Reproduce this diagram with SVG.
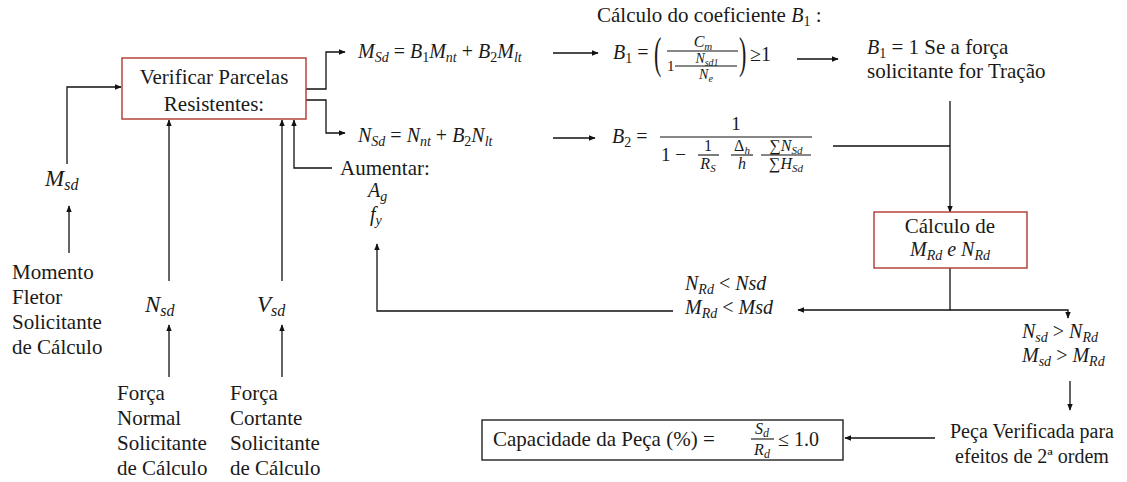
<svg xmlns="http://www.w3.org/2000/svg" width="1127" height="482" viewBox="0 0 1127 482">
<style>
.t{font-family:"Liberation Serif","Times New Roman",serif;font-size:21px;fill:#1a1a1a}
.m{font-family:"Liberation Serif","Times New Roman",serif;font-style:italic;font-size:20px;fill:#1a1a1a}
.s{font-size:14px}
.u{font-style:normal}
.sm{font-family:"Liberation Serif","Times New Roman",serif;font-style:italic;font-size:16px;fill:#1a1a1a}
.ln{fill:none;stroke:#111;stroke-width:1.3}
.bar{stroke:#111;stroke-width:1.1}
.red{fill:#fff;stroke:#b5443d;stroke-width:1.5}
.blk{fill:#fff;stroke:#222;stroke-width:1.4}
</style>
<defs>
<marker id="ah" viewBox="0 0 10 10" refX="9" refY="5" markerWidth="7" markerHeight="7" markerUnits="userSpaceOnUse" orient="auto"><path d="M0,1 L10,5 L0,9 z" fill="#111"/></marker>
</defs>

<g id="connectors">
<path class="ln" d="M67,164 V87 H121" marker-end="url(#ah)"/>
<path class="ln" d="M69,253 V206" marker-end="url(#ah)"/>
<path class="ln" d="M169,281 V120" marker-end="url(#ah)"/>
<path class="ln" d="M169,377 V325" marker-end="url(#ah)"/>
<path class="ln" d="M282,281 V120" marker-end="url(#ah)"/>
<path class="ln" d="M282,377 V325" marker-end="url(#ah)"/>
<path class="ln" d="M332,168 H294 V120" marker-end="url(#ah)"/>
<path class="ln" d="M306,89 H326 V52 H345" marker-end="url(#ah)"/>
<path class="ln" d="M306,100 H326 V133 H345" marker-end="url(#ah)"/>
<path class="ln" d="M553,53 H598" marker-end="url(#ah)"/>
<path class="ln" d="M553,138 H595" marker-end="url(#ah)"/>
<path class="ln" d="M797,59 H838" marker-end="url(#ah)"/>
<path class="ln" d="M950,101 V212" marker-end="url(#ah)"/>
<path class="ln" d="M833,146 H950"/>
<path class="ln" d="M950,268 V310 H798" marker-end="url(#ah)"/>
<path class="ln" d="M950,310 H1068 V318" marker-end="url(#ah)"/>
<path class="ln" d="M673,311 H377 V244" marker-end="url(#ah)"/>
<path class="ln" d="M1070,381 V410" marker-end="url(#ah)"/>
<path class="ln" d="M935,438 H845" marker-end="url(#ah)"/>
</g>

<g id="verificar">
<rect class="red" x="122" y="58" width="184" height="61"/>
<text class="t" x="214" y="84" text-anchor="middle">Verificar Parcelas</text>
<text class="t" x="214" y="111" text-anchor="middle">Resistentes:</text>
</g>

<g id="msd">
<text class="m" x="45" y="186" style="font-size:23px">M<tspan style="font-size:16px" dy="4">sd</tspan></text>
</g>
<g id="momento">
<text class="t" x="12" y="279">Momento</text>
<text class="t" x="12" y="304">Fletor</text>
<text class="t" x="12" y="329">Solicitante</text>
<text class="t" x="12" y="354">de Cálculo</text>
</g>

<g id="nsd">
<text class="m" x="145" y="312" style="font-size:23px">N<tspan style="font-size:16px" dy="4">sd</tspan></text>
</g>
<g id="forca-normal">
<text class="t" x="117" y="400">Força</text>
<text class="t" x="117" y="425">Normal</text>
<text class="t" x="117" y="450">Solicitante</text>
<text class="t" x="117" y="475">de Cálculo</text>
</g>

<g id="vsd">
<text class="m" x="257" y="312" style="font-size:23px">V<tspan style="font-size:16px" dy="4">sd</tspan></text>
</g>
<g id="forca-cortante">
<text class="t" x="230" y="400">Força</text>
<text class="t" x="230" y="425">Cortante</text>
<text class="t" x="230" y="450">Solicitante</text>
<text class="t" x="230" y="475">de Cálculo</text>
</g>

<g id="aumentar">
<text class="t" x="340" y="175">Aumentar:</text>
<text class="m" x="368" y="197">A<tspan class="s" dy="4">g</tspan></text>
<text class="m" x="370" y="221">f<tspan class="s" dy="4">y</tspan></text>
</g>

<g id="msd-eq">
<text class="m" x="358" y="58">M<tspan class="s" dy="4">Sd</tspan><tspan class="u" dy="-4"> = </tspan>B<tspan class="s u" dy="4">1</tspan><tspan dy="-4">M</tspan><tspan class="s" dy="4">nt</tspan><tspan class="u" dy="-4"> + </tspan>B<tspan class="s u" dy="4">2</tspan><tspan dy="-4">M</tspan><tspan class="s" dy="4">lt</tspan></text>
</g>
<g id="nsd-eq">
<text class="m" x="358" y="142">N<tspan class="s" dy="4">Sd</tspan><tspan class="u" dy="-4"> = </tspan>N<tspan class="s" dy="4">nt</tspan><tspan class="u" dy="-4"> + </tspan>B<tspan class="s u" dy="4">2</tspan><tspan dy="-4">N</tspan><tspan class="s" dy="4">lt</tspan></text>
</g>

<g id="titulo-b1">
<text class="t" x="597" y="22">Cálculo do coeficiente <tspan class="m">B</tspan><tspan class="s" dy="4">1</tspan><tspan dy="-4"> :</tspan></text>
</g>

<g id="b1-formula">
<text class="m" x="613" y="59">B<tspan class="s u" dy="4">1</tspan><tspan class="u" dy="-4"> = </tspan></text>
<text class="t" transform="translate(654,68) scale(1,2)" style="font-size:22px">(</text>
<text class="sm" x="703" y="47" text-anchor="middle">C<tspan style="font-size:11px" dy="3">m</tspan></text>
<line class="bar" x1="667" y1="51" x2="738" y2="51"/>
<text class="t" x="667" y="71" style="font-size:15px">1</text>
<line class="bar" x1="675" y1="66" x2="737" y2="66"/>
<text class="sm" x="707" y="63" text-anchor="middle" style="font-size:14px">N<tspan style="font-size:10px" dy="3">sd1</tspan></text>
<text class="sm" x="706" y="79" text-anchor="middle" style="font-size:14px">N<tspan style="font-size:10px" dy="3">e</tspan></text>
<text class="t" transform="translate(739,68) scale(1,2)" style="font-size:22px">)</text>
<text class="t" x="750" y="61" style="font-size:20px">≥1</text>
</g>

<g id="b1-tracao">
<text class="t" x="867" y="54"><tspan class="m">B</tspan><tspan class="s" dy="4">1</tspan><tspan dy="-4"> = 1  Se a força</tspan></text>
<text class="t" x="867" y="78">solicitante for Tração</text>
</g>

<g id="b2-formula">
<text class="m" x="612" y="143">B<tspan class="s u" dy="4">2</tspan><tspan class="u" dy="-4"> = </tspan></text>
<text class="t" x="736" y="130" style="font-size:19px" text-anchor="middle">1</text>
<line class="bar" x1="660" y1="137" x2="812" y2="137"/>
<text class="t" x="661" y="161" style="font-size:19px">1 −</text>
<text class="t" x="708" y="151" style="font-size:16px" text-anchor="middle">1</text>
<line class="bar" x1="698" y1="155" x2="719" y2="155"/>
<text class="sm" x="708" y="169" text-anchor="middle">R<tspan style="font-size:11px" dy="3">S</tspan></text>
<text class="sm" x="742" y="151" text-anchor="middle"><tspan class="u">Δ</tspan><tspan style="font-size:11px" dy="3">h</tspan></text>
<line class="bar" x1="731" y1="155" x2="753" y2="155"/>
<text class="sm" x="742" y="169" text-anchor="middle">h</text>
<text class="sm" x="786" y="151" text-anchor="middle"><tspan class="u">∑</tspan>N<tspan style="font-size:11px" dy="3">Sd</tspan></text>
<line class="bar" x1="761" y1="155" x2="811" y2="155"/>
<text class="sm" x="786" y="169" text-anchor="middle"><tspan class="u">∑</tspan>H<tspan style="font-size:11px" dy="3">Sd</tspan></text>
</g>

<g id="calculo-rd">
<rect class="red" x="874" y="212" width="153" height="56"/>
<text class="t" x="950" y="233" text-anchor="middle">Cálculo de</text>
<text class="m" x="950" y="256" text-anchor="middle">M<tspan class="s" dy="4">Rd</tspan><tspan dy="-4"> e N</tspan><tspan class="s" dy="4">Rd</tspan></text>
</g>

<g id="falha">
<text class="m" x="685" y="290">N<tspan class="s" dy="4">Rd</tspan><tspan class="u" dy="-4"> &lt; </tspan>Nsd</text>
<text class="m" x="685" y="314">M<tspan class="s" dy="4">Rd</tspan><tspan class="u" dy="-4"> &lt; </tspan>Msd</text>
</g>

<g id="ok">
<text class="m" x="1022" y="338">N<tspan class="s" dy="4">sd</tspan><tspan class="u" dy="-4"> &gt; </tspan>N<tspan class="s" dy="4">Rd</tspan></text>
<text class="m" x="1022" y="362">M<tspan class="s" dy="4">sd</tspan><tspan class="u" dy="-4"> &gt; </tspan>M<tspan class="s" dy="4">Rd</tspan></text>
</g>

<g id="verificada">
<text class="t" x="1032" y="438" text-anchor="middle" style="font-size:20px">Peça Verificada para</text>
<text class="t" x="1032" y="463" text-anchor="middle" style="font-size:20px">efeitos de 2ª ordem</text>
</g>

<g id="capacidade">
<rect class="blk" x="482" y="420" width="361" height="40"/>
<text class="t" x="493" y="446">Capacidade da Peça (%) =</text>
<text class="sm" x="762" y="434" text-anchor="middle">S<tspan style="font-size:12px" dy="3">d</tspan></text>
<line class="bar" x1="751" y1="439" x2="774" y2="439"/>
<text class="sm" x="762" y="455" text-anchor="middle">R<tspan style="font-size:12px" dy="3">d</tspan></text>
<text class="t" x="778" y="446" style="font-size:20px">≤ 1.0</text>
</g>
</svg>
